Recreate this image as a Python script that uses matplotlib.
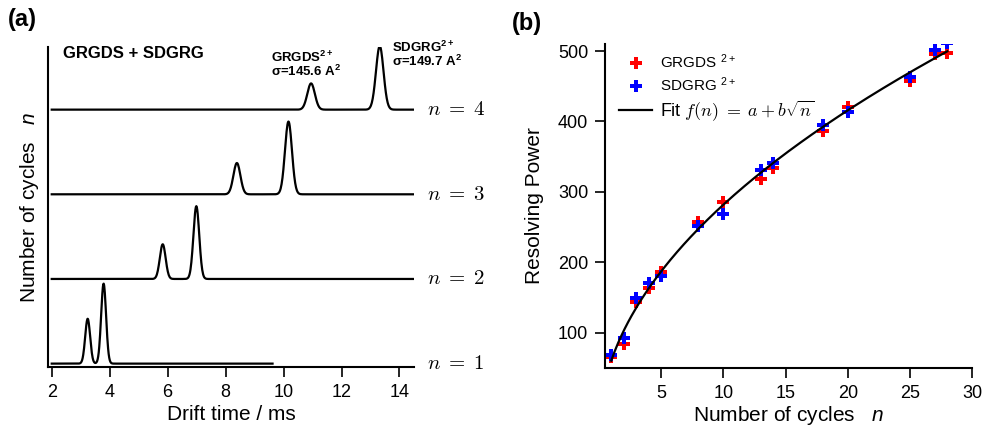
import matplotlib
matplotlib.use('Agg')
import matplotlib.pyplot as plt
import matplotlib.transforms as mtransforms
import numpy as np

plt.rcParams['font.family'] = ['Liberation Sans', 'DejaVu Sans']
plt.rcParams['mathtext.fontset'] = 'custom'
plt.rcParams['mathtext.rm'] = 'Liberation Sans'
plt.rcParams['mathtext.it'] = 'Liberation Sans:italic'
plt.rcParams['mathtext.bf'] = 'Liberation Sans:bold'

# (a) arrival-time traces, one per number of cycles
trace_n = [1, 2, 3, 4]
trace_end = [9.62, 14.5, 14.5, 14.5]
grgds_center = [3.24, 5.83, 8.39, 10.95]
grgds_height = [0.53, 0.41, 0.37, 0.31]
sdgrg_center = [3.79, 6.99, 10.17, 13.32]
sdgrg_height = [0.945, 0.86, 0.86, 0.75]
peak_sigma = [0.085, 0.10, 0.12, 0.13]

# (b) resolving power vs number of cycles
cycles = [1, 2, 3, 4, 5, 8, 10, 13, 14, 18, 20, 25, 27, 28]
rp_grgds = [65, 84, 143, 163, 186, 257, 285, 318, 334, 386, 420, 457, 496, 497]
rp_sdgrg = [68, 92, 149, 170, 180, 252, 268, 331, 341, 395, 414, 463, 501, 511]

fig = plt.figure(figsize=(9.83, 4.28), dpi=100)
ax1 = fig.add_axes([0.0488, 0.1425, 0.3723, 0.7477])
ax2 = fig.add_axes([0.6155, 0.1402, 0.3735, 0.757])

for ax in (ax1, ax2):
    ax.spines['top'].set_visible(False)
    ax.spines['right'].set_visible(False)
    ax.spines['left'].set_linewidth(1.5)
    ax.spines['bottom'].set_linewidth(1.5)
    ax.tick_params(direction='out', width=1.2, length=7, pad=5, labelsize=13)

# ---- panel (a) ----
ytrans = mtransforms.blended_transform_factory(ax1.transAxes, ax1.transData)
for i, n in enumerate(trace_n):
    t = np.linspace(2.0, trace_end[i], 800)
    s = peak_sigma[i]
    y = (n - 1
         + grgds_height[i] * np.exp(-0.5 * ((t - grgds_center[i]) / s) ** 2)
         + sdgrg_height[i] * np.exp(-0.5 * ((t - sdgrg_center[i]) / s) ** 2))
    ax1.plot(t, y, color='black', lw=1.6)
    ax1.text(1.035, n - 1, r'$n\;=\;%d$' % n, transform=ytrans,
             fontsize=15, va='center', ha='left', math_fontfamily='cm', clip_on=False)

ax1.set_xlim(1.87, 14.5)
ax1.set_ylim(-0.04, 3.74)
ax1.set_xticks([2, 4, 6, 8, 10, 12, 14])
ax1.set_yticks([])
ax1.set_xlabel('Drift time / ms', fontsize=15, labelpad=3)
ax1.set_ylabel(r'Number of cycles   $n$', fontsize=15, labelpad=5)
ax1.text(0.04, 0.981, 'GRGDS + SDGRG', transform=ax1.transAxes, fontsize=12,
         fontweight='bold', va='center', ha='left')
ax1.text(9.58, 3.62, 'GRGDS$^{\\mathbf{2+}}$', fontsize=9.5, fontweight='bold',
         va='center', ha='left')
ax1.text(9.58, 3.455, 'σ=145.6 A$^{\\mathbf{2}}$', fontsize=9.5, fontweight='bold',
         va='center', ha='left')
ax1.text(13.75, 3.73, 'SDGRG$^{\\mathbf{2+}}$', fontsize=9.5, fontweight='bold',
         va='center', ha='left', clip_on=False)
ax1.text(13.75, 3.565, 'σ=149.7 A$^{\\mathbf{2}}$', fontsize=9.5, fontweight='bold',
         va='center', ha='left', clip_on=False)

# ---- panel (b) ----
ax2.plot(cycles, rp_grgds, 'P', color='red', ms=9, mew=0, label=r'GRGDS $^{2+}$')
ax2.plot(cycles, rp_sdgrg, 'P', color='blue', ms=9, mew=0, label=r'SDGRG $^{2+}$')
sq = np.sqrt(np.array(cycles + cycles, dtype=float))
b, a = np.polyfit(sq, np.array(rp_grgds + rp_sdgrg, dtype=float), 1)
nfit = np.linspace(1, 28, 200)
ax2.plot(nfit, a + b * np.sqrt(nfit), color='black', lw=1.6, label=r'Fit $f(n)\;=\;a + b\sqrt{n}$')

ax2.set_xlim(0.5, 30)
ax2.set_ylim(50, 510)
ax2.set_xticks([5, 10, 15, 20, 25, 30])
ax2.set_yticks([100, 200, 300, 400, 500])
ax2.set_xlabel(r'Number of cycles   $n$', fontsize=15, labelpad=2)
ax2.set_ylabel('Resolving Power', fontsize=15, labelpad=10)
leg = ax2.legend(loc='upper left', bbox_to_anchor=(0.0, 1.015), frameon=False, fontsize=11,
                 numpoints=1, handlelength=2.2, handletextpad=0.5, labelspacing=0.25,
                 borderaxespad=0.5)
leg.get_texts()[2].set_math_fontfamily('cm')
leg.get_texts()[2].set_fontsize(13)

fig.text(0.008, 0.955, '(a)', fontsize=17, fontweight='bold', va='center', ha='left')
fig.text(0.521, 0.945, '(b)', fontsize=17, fontweight='bold', va='center', ha='left')

fig.savefig('out.png', dpi=100)
